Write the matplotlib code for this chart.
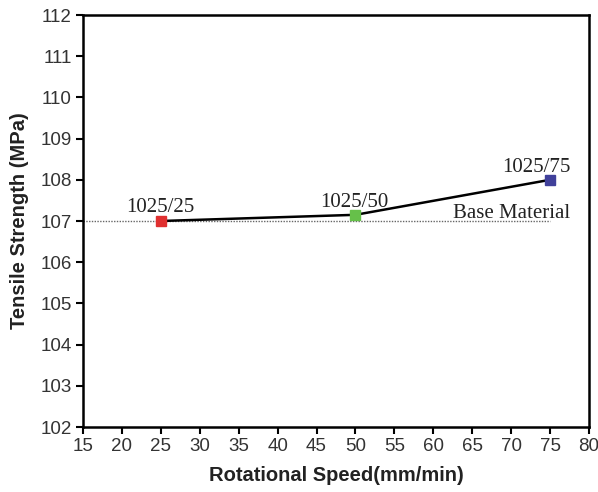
import matplotlib.pyplot as plt

speed = [25, 50, 75]
strength = [107.0, 107.15, 108.0]
labels = ["1025/25", "1025/50", "1025/75"]
colors = ["#e03030", "#66c04a", "#40409a"]
label_x = [24.9, 49.9, 73.3]
label_y = [107.22, 107.34, 108.19]
base_x = [15, 75]
base_strength = [107, 107]

fig = plt.figure(figsize=(5.98, 4.92), dpi=100)
ax = fig.add_axes([83/598, 1-427/492, 506/598, 412/492])

ax.plot(base_x, base_strength, color="#666666", linestyle=(0, (1, 1)), linewidth=1)
ax.plot(speed, strength, color="black", linewidth=1.8, zorder=2)
for x, y, c in zip(speed, strength, colors):
    ax.plot(x, y, "s", color=c, markersize=6.5, zorder=3)

for x, y, t in zip(label_x, label_y, labels):
    ax.text(x, y, t, ha="center", va="baseline", fontsize=15, family="Liberation Serif", color="#222222")
ax.text(77.6, 107.07, "Base Material", ha="right", va="baseline", fontsize=15, family="Liberation Serif", color="#222222")

ax.set_xlim(15, 80)
ax.set_ylim(102, 112)
ax.set_xticks(range(15, 81, 5))
ax.set_yticks(range(102, 113, 1))
ax.tick_params(direction="out", length=5, width=1.5, labelsize=13.5, pad=3, labelcolor="#333333")
for lab in ax.get_xticklabels() + ax.get_yticklabels():
    lab.set_family("Liberation Sans")
for s in ax.spines.values():
    s.set_linewidth(1.8)

ax.set_xlabel("Rotational Speed(mm/min)", fontsize=14.5, fontweight="bold", family="Liberation Sans", labelpad=8, color="#222222")
ax.set_ylabel("Tensile Strength (MPa)", fontsize=14.5, fontweight="bold", family="Liberation Sans", labelpad=8, color="#222222")

plt.savefig("out.png", dpi=100)
